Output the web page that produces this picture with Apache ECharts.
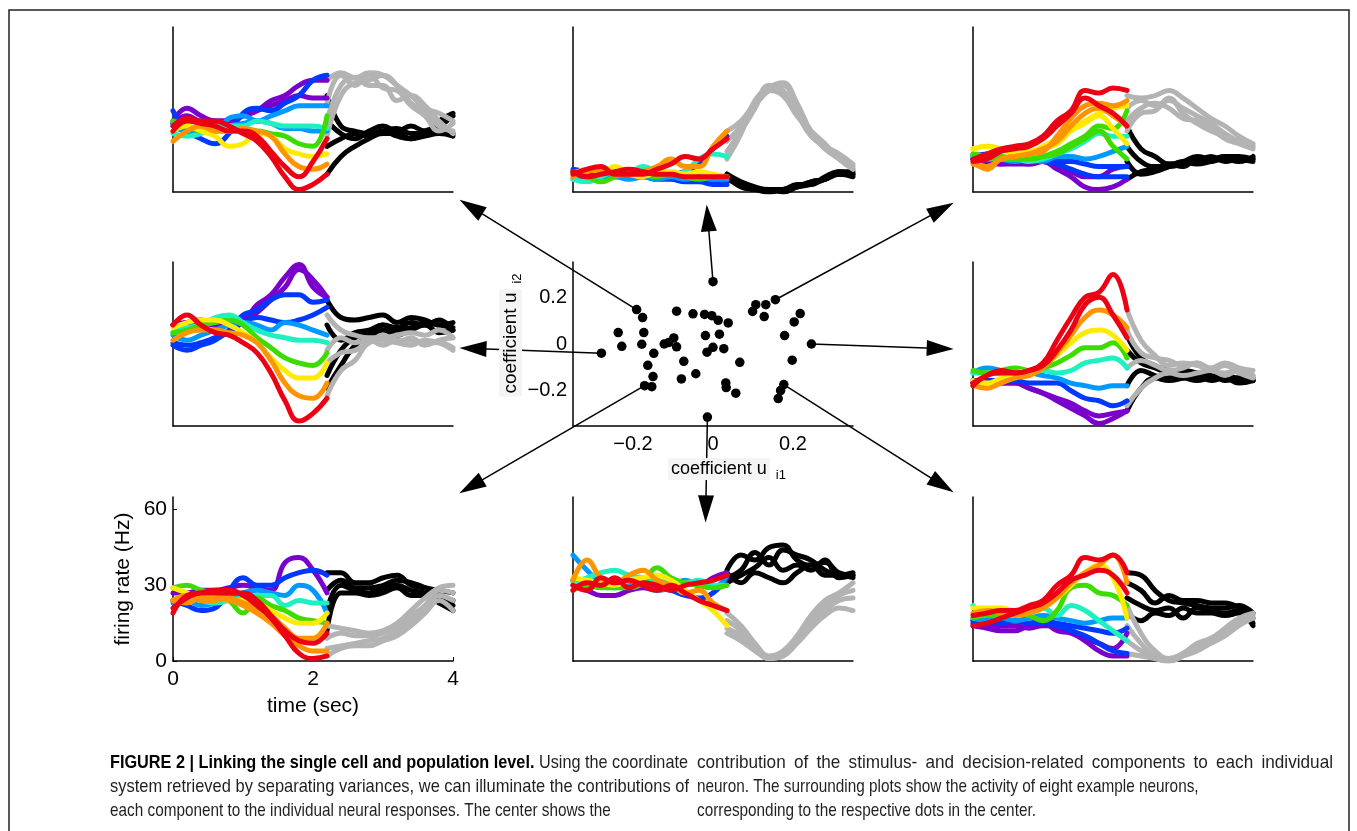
<!DOCTYPE html>
<html><head><meta charset="utf-8">
<script src="https://cdn.jsdelivr.net/npm/echarts@6/dist/echarts.min.js"></script>
<style>html,body{margin:0;padding:0;background:#fff}#c{width:1357px;height:831px}</style>
</head><body><div id="c"></div>
<script>
// ================= DATA =================
const tStim = [0, 0.2, 0.4, 0.6, 0.8, 1.0, 1.2, 1.4, 1.6, 1.8, 2.0, 2.2];
const tDec  = [2.2, 2.4, 2.6, 2.8, 3.0, 3.2, 3.4, 3.6, 3.8, 4.0];
const rateTicks = [0, 30, 60];
const timeTicks = [0, 2, 4];
const coefTicks = [-0.2, 0, 0.2];

// stimulus index (1..8) of every coloured trace, and firing rates (Hz) at tStim
const tlStimIds = [1,1,2,3,3,4,5,6,7,8,8];
const tlStim = [
 [28,33,30,28,28,30,32,36,38,42,44,44],
 [27,30,28,28,28,30,32,34,36,38,37,37],
 [32,24,21,19,23,31,33,32,35,38,44,46],
 [26,24,24,24,29,30,28,30,32,34,34,34],
 [27,25,26,25,26,27,28,27,25,25,24,24],
 [23,22,23,26,26,26,28,27,26,26,26,25],
 [28,26,24,24,24,24,24,23,22,19,18,30],
 [24,26,24,22,18,19,23,22,17,15,14,15],
 [20,24,26,24,24,25,24,22,15,10,9,11],
 [26,29,28,28,26,23,20,14,6,1,3,7],
 [24,28,27,26,24,24,22,16,10,6,12,21]];
const tlGray = [
 [44,47,45,47,46,42,38,33,31,28],
 [22,38,43,44,46,42,35,32,26,24],
 [28,42,45,42,42,36,38,34,28,23],
 [35,46,42,46,41,40,34,30,24,27]];
const tlBlack = [
 [38,26,24,23,24,25,23,23,28,31],
 [7,14,18,21,23,23,21,24,26,30],
 [18,21,23,22,24,22,21,22,23,22],
 [28,23,21,24,26,24,26,24,24,23]];

const tcStimIds = [1,2,2,3,4,5,6,7,8,8];
const tcStim = [
 [7,7,6,7,6,7,6,7,6,5,5,4],
 [9,8,7,6,6,7,7,7,8,11,17,22],
 [8,7,8,7,6,6,5,5,4,4,3,3],
 [5,5,6,6,5,6,5,6,5,6,5,5],
 [5,4,6,8,8,10,8,7,8,13,15,14],
 [8,6,4,6,8,7,6,7,6,5,6,6],
 [7,9,8,10,7,6,8,8,7,8,7,6],
 [6,8,9,7,7,8,10,13,10,10,18,24],
 [8,6,7,8,9,8,7,7,6,6,6,6],
 [7,9,10,7,7,7,9,11,14,13,17,21]];
const tcGray = [
 [24,28,35,41,43,35,24,18,14,10],
 [20,26,34,40,42,33,23,17,13,9],
 [16,24,33,42,40,31,22,18,15,11],
 [13,23,36,40,38,30,24,19,13,9]];
const tcBlack = [
 [7,3,1,1,1,2,3,5,8,7],
 [6,2,1,0,1,2,4,5,7,6],
 [7,4,2,1,1,3,3,6,8,8],
 [5,3,1,1,0,2,4,5,7,7]];

const trStimIds = [1,1,2,2,3,4,5,5,6,6,7,7,8,8];
const trStim = [
 [13,12,11,11,11,12,9,6,2,1,2,5],
 [13,12,11,12,11,12,10,8,6,6,9,10],
 [14,15,13,12,12,12,11,9,7,6,6,6],
 [13,14,13,12,12,12,12,12,11,10,10,10],
 [14,14,13,12,13,12,14,14,13,14,16,18],
 [14,13,13,13,12,13,15,17,20,23,22,22],
 [15,14,14,13,13,14,16,19,22,26,25,32],
 [15,14,13,13,13,14,15,18,21,24,18,13],
 [17,18,17,15,15,17,19,24,27,30,25,19],
 [17,18,17,16,16,18,21,25,28,31,33,34],
 [11,10,13,14,15,16,22,29,34,35,34,36],
 [12,9,13,14,15,17,20,26,31,33,30,26],
 [13,15,17,18,19,22,28,32,40,39,41,40],
 [12,13,16,17,18,21,26,31,37,34,31,26]];
const trGray = [
 [38,37,38,40,37,33,29,26,22,19],
 [33,36,34,36,33,30,27,23,20,18],
 [28,33,35,33,29,28,25,21,19,17],
 [24,31,32,37,31,27,24,22,20,18]];
const trBlack = [
 [26,17,14,11,12,14,13,14,14,13],
 [18,12,10,10,11,12,14,12,13,13],
 [12,7,8,10,12,11,12,13,12,14],
 [5,8,9,11,10,13,12,14,13,12]];

const mlStimIds = [1,1,2,2,3,4,5,6,7,8];
const mlStim = [
 [40,41,42,40,41,42,48,52,59,64,55,51],
 [40,41,41,40,40,41,45,50,55,62,58,51],
 [32,30,32,34,38,44,46,50,52,52,49,50],
 [33,32,33,35,37,41,43,42,41,42,44,47],
 [36,34,36,38,40,41,40,38,41,40,38,36],
 [37,39,40,43,44,41,38,36,35,34,34,33],
 [37,38,40,41,42,40,35,31,27,25,24,29],
 [39,41,42,42,40,37,33,27,22,19,19,25],
 [34,37,38,38,37,36,33,26,17,12,11,17],
 [40,44,40,37,36,33,29,21,10,2,5,11]];
const mlGray = [
 [44,38,36,35,35,36,37,36,38,35],
 [30,35,33,34,32,34,34,33,33,31],
 [12,22,26,33,34,33,35,32,34,35],
 [25,29,30,33,36,33,32,34,33,30]];
const mlBlack = [
 [50,43,42,43,44,41,43,42,40,41],
 [40,34,37,38,40,38,39,41,40,39],
 [20,30,35,37,40,39,41,40,42,38],
 [15,24,32,35,38,36,38,40,37,38]];

const mrStimIds = [1,1,2,3,4,5,6,7,8,8];
const mrStim = [
 [17,18,17,17,15,13,10,7,4,1,3,6],
 [17,18,17,17,15,13,11,9,6,4,5,6],
 [18,18,18,18,17,17,17,14,11,10,8,10],
 [21,23,22,21,21,20,19,17,16,15,16,16],
 [21,21,21,22,22,22,21,22,25,26,27,23],
 [22,21,22,23,22,23,25,28,31,31,33,27],
 [18,17,19,21,22,24,28,33,37,38,36,30],
 [16,15,17,19,20,23,29,36,43,46,44,39],
 [16,20,21,21,22,25,34,43,51,53,60,46],
 [17,20,22,21,22,24,30,38,48,51,44,35]];
const mrGray = [
 [46,34,28,24,25,24,22,21,22,20],
 [38,29,27,26,24,25,23,25,23,22],
 [23,26,24,22,23,25,22,24,21,19],
 [8,15,19,21,20,21,22,20,22,20]];
const mrBlack = [
 [36,27,24,22,22,21,20,20,19,19],
 [30,25,23,21,20,20,21,18,19,18],
 [16,22,20,19,19,18,19,19,18,18],
 [6,15,19,18,19,20,18,19,17,18]];

const blStimIds = [1,2,3,4,5,6,7,7,8,8];
const blStim = [
 [27,27,28,28,29,30,29,28,39,41,36,27],
 [24,22,20,21,28,33,30,30,33,35,36,34],
 [23,24,22,23,25,27,28,27,26,30,28,19],
 [24,25,24,23,24,25,26,26,22,24,23,23],
 [29,30,28,27,24,19,25,22,20,17,16,15],
 [29,27,25,25,24,24,23,20,17,15,15,19],
 [24,26,24,24,25,23,21,18,13,9,9,15],
 [24,23,25,25,24,22,19,15,10,6,4,4],
 [19,26,27,28,28,26,22,17,10,3,1,2],
 [21,25,27,27,27,27,24,18,12,8,7,11]];
const blGray = [
 [14,13,12,11,12,15,20,25,29,30],
 [9,11,10,10,11,14,18,22,28,27],
 [5,6,7,8,9,12,16,21,26,24],
 [2,5,6,6,8,10,14,19,24,20]];
const blBlack = [
 [35,35,31,31,33,34,30,29,28,27],
 [28,32,29,29,30,32,31,29,26,24],
 [20,30,28,27,29,30,28,27,25,22],
 [12,27,27,26,27,29,26,26,23,20]];

const bcStimIds = [1,2,3,4,5,6,7,8,8];
const bcStim = [
 [30,28,26,26,28,29,28,29,31,30,33,35],
 [32,30,31,30,31,30,29,28,26,25,27,33],
 [42,36,31,29,30,30,28,29,32,30,29,34],
 [31,33,35,36,34,33,32,31,31,32,30,30],
 [28,30,29,29,29,31,37,33,31,30,29,30],
 [33,32,31,30,32,33,34,32,28,24,20,14],
 [32,40,33,31,34,36,32,30,27,28,23,20],
 [28,31,30,33,29,31,30,28,30,31,32,34],
 [30,28,33,31,32,30,28,30,27,24,22,20]];
const bcGray = [
 [19,14,7,2,4,10,18,24,27,31],
 [16,12,6,1,3,9,16,22,26,28],
 [13,10,5,1,2,8,14,20,24,25],
 [11,8,4,1,2,7,13,18,21,20]];
const bcBlack = [
 [36,42,40,45,46,40,38,39,35,34],
 [33,36,43,38,44,42,40,36,34,35],
 [31,34,37,41,36,38,36,40,33,34],
 [35,31,35,33,31,35,38,34,34,33]];

const brStimIds = [1,1,2,2,3,4,5,6,7,8,8];
const brStim = [
 [14,13,12,12,14,15,12,11,8,4,2,2],
 [15,14,14,14,13,14,14,12,9,7,5,11],
 [16,17,15,16,15,15,14,12,10,7,4,3],
 [16,15,16,16,15,16,15,14,13,12,11,13],
 [17,16,17,16,17,18,17,16,15,16,17,17],
 [22,18,19,20,20,21,18,22,20,16,12,8],
 [17,18,18,19,18,16,20,29,30,27,26,22],
 [21,21,21,20,21,22,25,30,35,38,33,17],
 [19,20,19,18,19,21,25,31,35,38,42,31],
 [14,15,17,19,21,23,27,32,34,36,34,27],
 [18,19,20,20,22,24,30,34,41,40,42,35]];
const brGray = [
 [22,11,4,1,3,7,9,13,17,19],
 [14,7,2,1,3,6,9,12,16,18],
 [8,4,1,0,2,5,8,11,15,17],
 [3,2,1,0,2,4,7,10,14,17]];
const brBlack = [
 [35,34,28,24,23,22,21,21,22,19],
 [31,28,23,26,24,24,23,23,21,17],
 [25,22,20,21,17,21,20,19,20,15],
 [19,16,19,18,21,19,19,18,19,14]];

// centre scatter: coefficients u_i1 (x) and u_i2 (y)
const coefU1 = [0.000,-0.191,-0.176,-0.091,-0.050,-0.021,-0.003,0.013,0.038,0.099,0.107,0.132,0.156,0.128,0.218,0.203,0.179,0.246,0.198,
 -0.237,-0.228,-0.173,-0.178,-0.148,-0.163,-0.150,-0.171,-0.153,-0.279,-0.122,-0.111,-0.098,-0.091,-0.073,-0.079,-0.043,-0.019,0.016,0.000,
 -0.015,0.027,0.067,0.032,0.033,0.057,-0.014,0.177,0.169,0.163];
const coefU2 = [0.266,0.147,0.113,0.140,0.129,0.126,0.121,0.101,0.090,0.139,0.168,0.168,0.189,0.117,0.130,0.094,0.036,0.000,-0.069,
 0.049,-0.010,0.049,-0.001,-0.040,-0.091,-0.139,-0.178,-0.182,-0.039,0.000,0.006,0.026,-0.012,-0.074,-0.149,-0.127,0.036,0.042,-0.014,
 -0.035,-0.020,-0.078,-0.166,-0.186,-0.210,-0.312,-0.173,-0.199,-0.233];
// arrows: source dot index -> panel (target point in coefficient units)
const arrowFrom = [1, 0, 12, 28, 17, 26, 45, 46];
const arrowToU1 = [-0.605, -0.013, 0.572, -0.600, 0.568, -0.605, -0.018, 0.573];
const arrowToU2 = [0.585, 0.538, 0.575, -0.019, -0.019, -0.608, -0.704, -0.602];

// caption lines: [bold part, regular part, justified?]
const captionLeft = [
 ['FIGURE 2 | Linking the single cell and population level.', ' Using the coordinate', true],
 ['', 'system retrieved by separating variances, we can illuminate the contributions of', true],
 ['', 'each component to the individual neural responses. The center shows the', false]];
const captionRight = [
 ['', 'contribution of the stimulus- and decision-related components to each individual', true],
 ['', 'neuron. The surrounding plots show the activity of eight example neurons,', false],
 ['', 'corresponding to the respective dots in the center.', false]];

// ================= STYLE / LAYOUT =================
const FONT = "'Liberation Sans', Arial, Helvetica, sans-serif";
const stimColors = {1:'#7a00cc', 2:'#0038ff', 3:'#0099ff', 4:'#1ff0c0', 5:'#3ddc00', 6:'#ffea00', 7:'#ff9400', 8:'#ec0014'};
const GRAY = '#b3b3b3', BLACK = '#000000';
const LW = 5;

const panels = [
 {box:[173, 27,280,165], ids:tlStimIds, stim:tlStim, gray:tlGray, black:tlBlack},
 {box:[573, 27,280,165], ids:tcStimIds, stim:tcStim, gray:tcGray, black:tcBlack},
 {box:[973, 27,280,165], ids:trStimIds, stim:trStim, gray:trGray, black:trBlack},
 {box:[173,262,280,164], ids:mlStimIds, stim:mlStim, gray:mlGray, black:mlBlack},
 {box:[973,262,280,164], ids:mrStimIds, stim:mrStim, gray:mrGray, black:mrBlack},
 {box:[173,497,280,164], ids:blStimIds, stim:blStim, gray:blGray, black:blBlack, labelled:true},
 {box:[573,497,280,164], ids:bcStimIds, stim:bcStim, gray:bcGray, black:bcBlack},
 {box:[973,497,280,164], ids:brStimIds, stim:brStim, gray:brGray, black:brBlack}
];

const grid = [], xAxis = [], yAxis = [], series = [];
const axisLineStyle = {show:true, onZero:false, lineStyle:{color:'#000', width:1.5}};
const lineSeries = (gi, ts, vals, color) => ({
  type:'line', xAxisIndex:gi, yAxisIndex:gi, data: ts.map((t,k)=>[t, vals[k]]),
  smooth:0.45, symbol:'none', showSymbol:false, silent:true, animation:false,
  lineStyle:{width:LW, color, cap:'round', join:'round'}
});

panels.forEach((p, gi) => {
  grid.push({left:p.box[0], top:p.box[1], width:p.box[2], height:p.box[3], containLabel:false, outerBoundsMode:'none'});
  const lab = !!p.labelled;
  xAxis.push({
    type:'value', gridIndex:gi, min:0, max:4,
    axisLine:axisLineStyle, splitLine:{show:false},
    axisTick:{show:lab, inside:true, length:4, customValues:timeTicks, lineStyle:{color:'#000'}},
    axisLabel:{show:lab, customValues:timeTicks, fontSize:21, color:'#000', fontFamily:FONT, margin:8},
    name: lab ? 'time (sec)' : '', nameLocation:'middle', nameGap:35,
    nameTextStyle:{fontSize:21, color:'#000', fontFamily:FONT}
  });
  yAxis.push({
    type:'value', gridIndex:gi, min:0, max:65,
    axisLine:axisLineStyle, splitLine:{show:false},
    axisTick:{show:lab, inside:true, length:4, customValues:rateTicks, lineStyle:{color:'#000'}},
    axisLabel:{show:lab, customValues:rateTicks, fontSize:21, color:'#000', fontFamily:FONT, margin:6},
    name: lab ? 'firing rate (Hz)' : '', nameLocation:'middle', nameGap:39,
    nameTextStyle:{fontSize:21, color:'#000', fontFamily:FONT}
  });
  p.black.forEach(v => series.push(lineSeries(gi, tDec, v, BLACK)));
  p.gray.forEach(v => series.push(lineSeries(gi, tDec, v, GRAY)));
  p.stim.forEach((v, k) => series.push(lineSeries(gi, tStim, v, stimColors[p.ids[k]])));
});

// centre scatter
const SI = panels.length;
grid.push({left:573, top:262, width:280, height:164, containLabel:false, outerBoundsMode:'none'});
const minusFmt = v => (v < 0 ? '\u2212' : '') + Math.abs(v);
const nameStyle = (sz, pad) => ({
  padding:pad,
  rich:{
    a:{fontSize:sz, fontFamily:FONT, color:'#000', lineHeight:26, backgroundColor:'#f4f4f4', padding:[2,3,2,3]},
    s:{fontSize:13, fontFamily:FONT, color:'#000', lineHeight:13, verticalAlign:'bottom', padding:[0,0,0,6]}
  }
});
xAxis.push({
  type:'value', gridIndex:SI, min:-0.35, max:0.35,
  axisLine:axisLineStyle, splitLine:{show:false}, axisTick:{show:false},
  axisLabel:{customValues:coefTicks, formatter:minusFmt, fontSize:20, color:'#000', fontFamily:FONT, margin:8},
  name:'{a|coefficient u}{s|i1}', nameLocation:'middle', nameGap:30, nameTextStyle:nameStyle(18, [0,0,0,28])
});
yAxis.push({
  type:'value', gridIndex:SI, min:-0.35, max:0.35,
  axisLine:axisLineStyle, splitLine:{show:false}, axisTick:{show:false},
  axisLabel:{customValues:coefTicks, formatter:minusFmt, fontSize:20, color:'#000', fontFamily:FONT, margin:6},
  name:'{a|coefficient u}{s|i2}', nameLocation:'middle', nameGap:46, nameTextStyle:nameStyle(19, [0,0,0,18])
});
series.push({
  type:'lines', coordinateSystem:'cartesian2d', xAxisIndex:SI, yAxisIndex:SI,
  clip:false, z:-1, silent:true, animation:false, polyline:false,
  symbol:['none', 'path://M5 0 L10 17 L0 17 Z'], symbolSize:[1, [16, 27]],
  lineStyle:{color:'#000', width:1.5, opacity:1},
  data: arrowFrom.map((idx, k) => ({coords:[[coefU1[idx], coefU2[idx]], [arrowToU1[k], arrowToU2[k]]]}))
});
series.push({
  type:'scatter', xAxisIndex:SI, yAxisIndex:SI, z:5, silent:true, animation:false,
  data: coefU1.map((x, i) => [x, coefU2[i]]), symbolSize:9.5, itemStyle:{color:'#000', opacity:1}
});

// caption: condensed look via horizontal scale; justified lines take a bit more scale plus wider word gaps
const CAP_SIZE = 19;
const cv = document.createElement('canvas').getContext('2d');
const fontStr = (bold) => (bold ? 'bold ' : '') + CAP_SIZE + 'px "Liberation Sans"';
const mw = (txt, bold) => { cv.font = fontStr(bold); return cv.measureText(txt).width; };
const leftX = 110, rightX = 697, lineY0 = 763, lineStep = 24;
const leftEnds = [688, 689, 604], rightEnds = [1333, 1183, 1051];
const freeLines = [[captionLeft[2], leftX, leftEnds[2]], [captionRight[1], rightX, rightEnds[1]], [captionRight[2], rightX, rightEnds[2]]];
const capScale = freeLines.reduce((acc, [ln, x0, x1]) => acc + (x1 - x0) / (mw(ln[0], true) + mw(ln[1], false)), 0) / freeLines.length;

const graphics = [{
  type:'polyline', silent:true, z:100,
  shape:{points:[[9,900],[9,10],[1349,10],[1349,900]]},
  style:{stroke:'#222', lineWidth:1.5, fill:null}
}];
const txt = (x, y, text, bold, sc) => ({
  type:'text', x, y, scaleX:sc, silent:true,
  style:{text, fontSize:CAP_SIZE, fontFamily:FONT, fontWeight: bold ? 'bold' : 'normal',
    fill: bold ? '#000' : '#231f20', verticalAlign:'middle', textVerticalAlign:'middle', align:'left', textAlign:'left'}
});
const addCol = (lines, x0, ends) => lines.forEach((ln, i) => {
  const y = lineY0 + i*lineStep;
  const words = [];
  ln[0].split(' ').filter(w => w).forEach(w => words.push([w, true]));
  ln[1].split(' ').filter(w => w).forEach(w => words.push([w, false]));
  const rawW = words.map(([w, b]) => mw(w, b));
  const rawSpace = mw(' ', false);
  const rawTotal = rawW.reduce((a, b) => a + b, 0) + rawSpace * (words.length - 1);
  let sc = capScale, gap;
  if (ln[2]) {
    sc = Math.min((ends[i] - x0) / rawTotal, capScale * 1.12);
    const natural = rawTotal * sc;
    gap = rawSpace * sc + (ends[i] - x0 - natural) / (words.length - 1);
  } else {
    gap = rawSpace * sc;
  }
  let x = x0;
  words.forEach(([w, b], k) => { graphics.push(txt(x, y, w, b, sc)); x += rawW[k] * sc + gap; });
});
addCol(captionLeft, leftX, leftEnds);
addCol(captionRight, rightX, rightEnds);

const chart = echarts.init(document.getElementById('c'), null, {renderer:'canvas'});
chart.setOption({
  backgroundColor:'#ffffff', animation:false,
  textStyle:{fontFamily:FONT},
  grid, xAxis, yAxis, series, graphic:graphics
});
</script></body></html>
